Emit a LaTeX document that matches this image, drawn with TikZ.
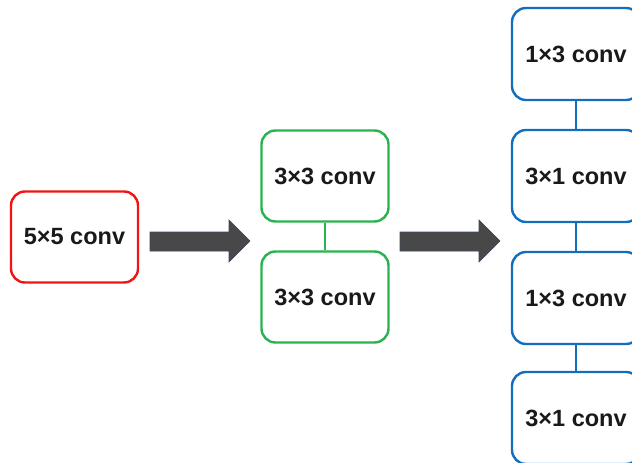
\documentclass[tikz,border=0pt]{standalone}
\usepackage{fontspec}
\setmainfont{Liberation Sans}
\definecolor{cred}{RGB}{240,20,20}
\definecolor{cgreen}{RGB}{40,178,80}
\definecolor{cblue}{RGB}{20,110,190}
\definecolor{cgray}{RGB}{72,72,72}
\definecolor{cedge}{RGB}{60,70,95}
\begin{document}
\begin{tikzpicture}[x=1pt,y=-1pt,
  box/.style={draw,line width=2.4pt,rounded corners=14pt,minimum width=127pt,minimum height=91pt,inner sep=0pt,font=\fontsize{23.5}{28}\selectfont\bfseries,text=black!90},
  redbox/.style={box,draw=cred},
  greenbox/.style={box,draw=cgreen},
  bluebox/.style={box,draw=cblue,minimum width=128pt,minimum height=92pt},
  link/.style={line width=2.4pt},
  blockarrow/.style={fill=cgray,draw=cedge,line width=0.6pt}]
\useasboundingbox (0,0) rectangle (632,463);
\begin{scope}
\clip (0,0) rectangle (632,463);
\node[redbox] (a) at (74.5,237) {5×5 conv};
\node[greenbox] (g1) at (325,176) {3×3 conv};
\node[greenbox] (g2) at (325,297) {3×3 conv};
\node[bluebox] (b1) at (576,54) {1×3 conv};
\node[bluebox] (b2) at (576,176) {3×1 conv};
\node[bluebox] (b3) at (576,298) {1×3 conv};
\node[bluebox] (b4) at (576,418) {3×1 conv};
\draw[link,cgreen] (g1) -- (g2);
\draw[link,cblue] (b1) -- (b2);
\draw[link,cblue] (b2) -- (b3);
\draw[link,cblue] (b3) -- (b4);
\draw[blockarrow] (150,232) -- (229,232) -- (229,220) -- (250,241) -- (229,262) -- (229,251) -- (150,251) -- cycle;
\draw[blockarrow] (400,232) -- (479,232) -- (479,220) -- (500,241) -- (479,262) -- (479,251) -- (400,251) -- cycle;
\end{scope}
\end{tikzpicture}
\end{document}
